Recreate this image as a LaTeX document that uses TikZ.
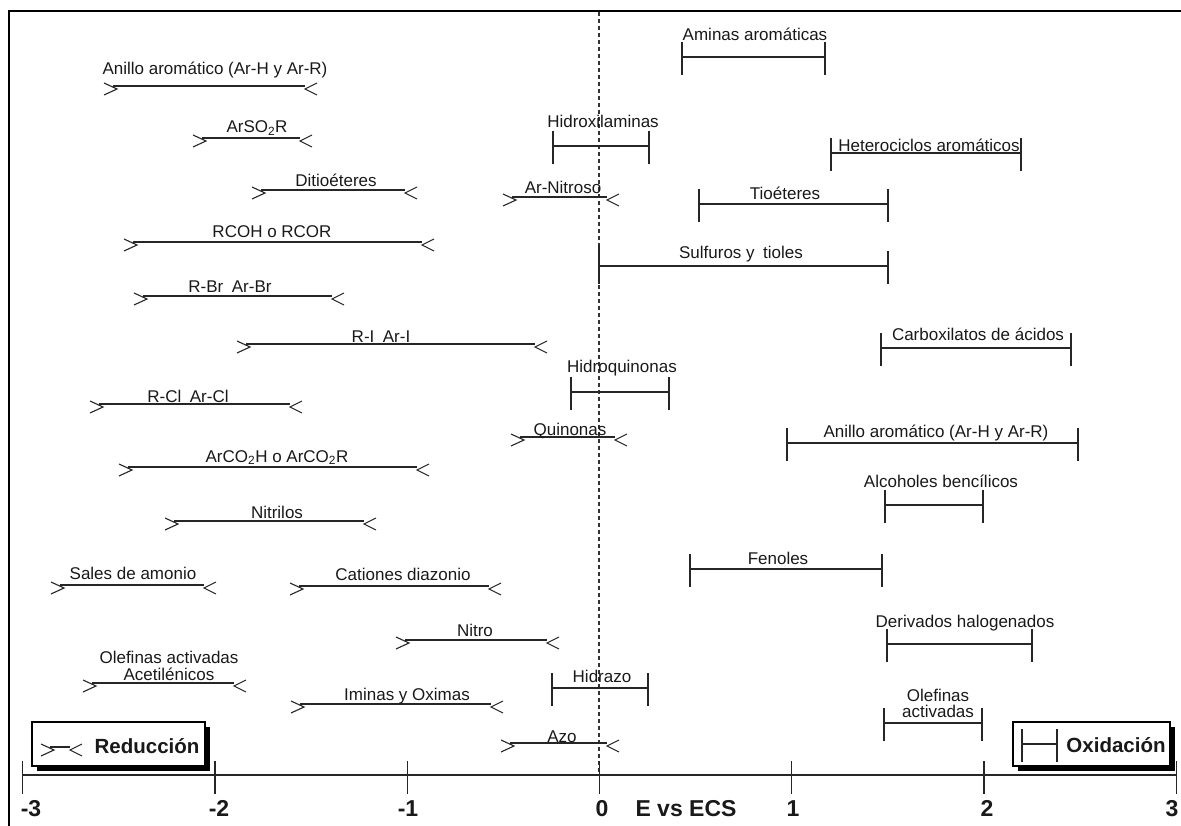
\documentclass[tikz,border=0pt]{standalone}
\usepackage{fontspec}
\setmainfont{Liberation Sans}
\tikzset{
  ln/.style={line width=1.3pt, draw=black!85, line cap=butt},
  chev/.style={line width=1.1pt, draw=black!85},
  lbl/.style={font=\fontsize{17}{19}\selectfont, inner sep=0pt, anchor=base, text=black!90},
  axlbl/.style={font=\bfseries\fontsize{23}{25}\selectfont, inner sep=0pt, anchor=base, text=black!90},
  boxlbl/.style={font=\bfseries\fontsize{20.5}{22}\selectfont, inner sep=0pt, anchor=base, text=black!90},
  frame/.style={line width=2pt, draw=black},
  zero/.style={line width=1.2pt, draw=black!80, dash pattern=on 4pt off 3pt},
}
\newcommand\redbar[3]{%
  \draw[ln] (#1,#3) -- (#2,#3);
  \draw[chev] ({#1-9},{#3-3}) -- ({#1+4},{#3+3}) -- ({#1-9},{#3+9});
  \draw[chev] ({#2+12},{#3-3}) -- (#2,{#3+3}) -- ({#2+12},{#3+9});
}
\newcommand\oxbar[3]{%
  \draw[ln] (#1,#3) -- (#2,#3);
  \draw[ln] (#1,{#3-15}) -- (#1,{#3+18});
  \draw[ln] (#2,{#3-15}) -- (#2,{#3+18});
}
\begin{document}
\begin{tikzpicture}[x=1pt,y=-1pt]
\useasboundingbox (0,0) rectangle (1181,826);
\clip (0,0) rectangle (1181,826);
% frame
\draw[frame] (1181,11) -- (9,11) -- (9,826);
% zero line
\draw[zero] (599,12) -- (599,775);
% axis
\draw[ln] (22.6,775) -- (1176.4,775);
\foreach \v in {-3,-2,-1,0,1,2,3}{
  \draw[ln] ({599.5+192.3*\v},761) -- ({599.5+192.3*\v},794);
}
\node[axlbl] (am3) at (31,816) {-3};
\node[axlbl] (am2) at (219,816) {-2};
\node[axlbl] (am1) at (408,816) {-1};
\node[axlbl] (a0) at (602,816) {0};
\node[axlbl] (aE) at (686,816) {E vs ECS};
\node[axlbl] (a1) at (793,816) {1};
\node[axlbl] (a2) at (987,816) {2};
\node[axlbl] (a3) at (1172,816) {3};

% ---------- reduction ----------
\redbar{113}{305}{86}
\node[lbl] (r1) at (215,75) {Anillo aromático (Ar-H y Ar-R)};
\redbar{202}{300}{138}
\node[lbl] (r2) at (257,133) {ArSO\textsubscript{2}R};
\redbar{261}{405}{190}
\node[lbl] (r3) at (336,187) {Ditioéteres};
\redbar{512}{607}{197}
\node[lbl] (r4) at (563,194) {Ar-Nitroso};
\redbar{133}{422}{242}
\node[lbl] (r5) at (272,238) {RCOH o RCOR};
\redbar{143}{332}{296}
\node[lbl] (r6) at (230,293) {R-Br\enspace Ar-Br};
\redbar{246}{535}{344}
\node[lbl] (r7) at (381,342) {R-I\enspace Ar-I};
\redbar{99}{290}{404}
\node[lbl] (r8) at (188,402) {R-Cl\enspace Ar-Cl};
\redbar{520}{615}{437}
\node[lbl] (r9) at (570,435) {Quinonas};
\redbar{128}{417}{467}
\node[lbl] (r10) at (277,462) {ArCO\textsubscript{2}H o ArCO\textsubscript{2}R};
\redbar{174}{364}{521}
\node[lbl] (r11) at (277,518) {Nitrilos};
\redbar{60}{204}{585}
\node[lbl] (r12) at (133,579) {Sales de amonio};
\redbar{299}{489}{586}
\node[lbl] (r13) at (403,580) {Cationes diazonio};
\redbar{405}{547}{640}
\node[lbl] (r14) at (475,636) {Nitro};
\redbar{92}{234}{683}
\node[lbl] (r15a) at (169,663) {Olefinas activadas};
\node[lbl] (r15b) at (169,680) {Acetilénicos};
\redbar{300}{491}{704}
\node[lbl] (r16) at (407,700) {Iminas y Oximas};
\redbar{510}{607}{743}
\node[lbl] (r17) at (562,742) {Azo};

% ---------- oxidation ----------
\oxbar{682}{825}{57}
\node[lbl] (o1) at (755,41) {Aminas aromáticas};
\oxbar{553}{649}{146}
\node[lbl] (o2) at (603,128) {Hidroxilaminas};
\oxbar{831}{1021}{153}
\node[lbl] (o3) at (929,152) {Heterociclos aromáticos};
\oxbar{699}{888}{204}
\node[lbl] (o4) at (785,200) {Tioéteres};
\oxbar{599}{888}{266}
\draw[ln] (599,245) -- (599,266);
\node[lbl] (o5) at (741,259) {Sulfuros y\enspace tioles};
\oxbar{881}{1071}{348}
\node[lbl] (o6) at (978,341) {Carboxilatos de ácidos};
\oxbar{571}{669}{392}
\node[lbl] (o7) at (622,373) {Hidroquinonas};
\oxbar{787}{1078}{443}
\node[lbl] (o8) at (936,437) {Anillo aromático (Ar-H y Ar-R)};
\oxbar{885}{983}{505}
\node[lbl] (o9) at (941,487) {Alcoholes bencílicos};
\oxbar{690}{882}{569}
\node[lbl] (o10) at (778,564) {Fenoles};
\oxbar{887}{1032}{644}
\node[lbl] (o11) at (965,627) {Derivados halogenados};
\oxbar{552}{648}{688}
\node[lbl] (o12) at (602,682) {Hidrazo};
\oxbar{884}{982}{723}
\node[lbl] (o13a) at (938,701) {Olefinas};
\node[lbl] (o13b) at (938,717) {activadas};

% ---------- legend boxes ----------
\fill[black] (37,727) rectangle (210,771);
\draw[line width=1.2pt, fill=white] (32,722) rectangle (205,766);
\redbar{50}{70}{747}
\node[boxlbl] (red) at (147,753) {Reducción};

\fill[black] (1018,727) rectangle (1175,771);
\draw[line width=1.2pt, fill=white] (1013,722) rectangle (1170,766);
\oxbar{1022}{1057}{744}
\node[boxlbl] (oxi) at (1116,752) {Oxidación};
\end{tikzpicture}
\end{document}
